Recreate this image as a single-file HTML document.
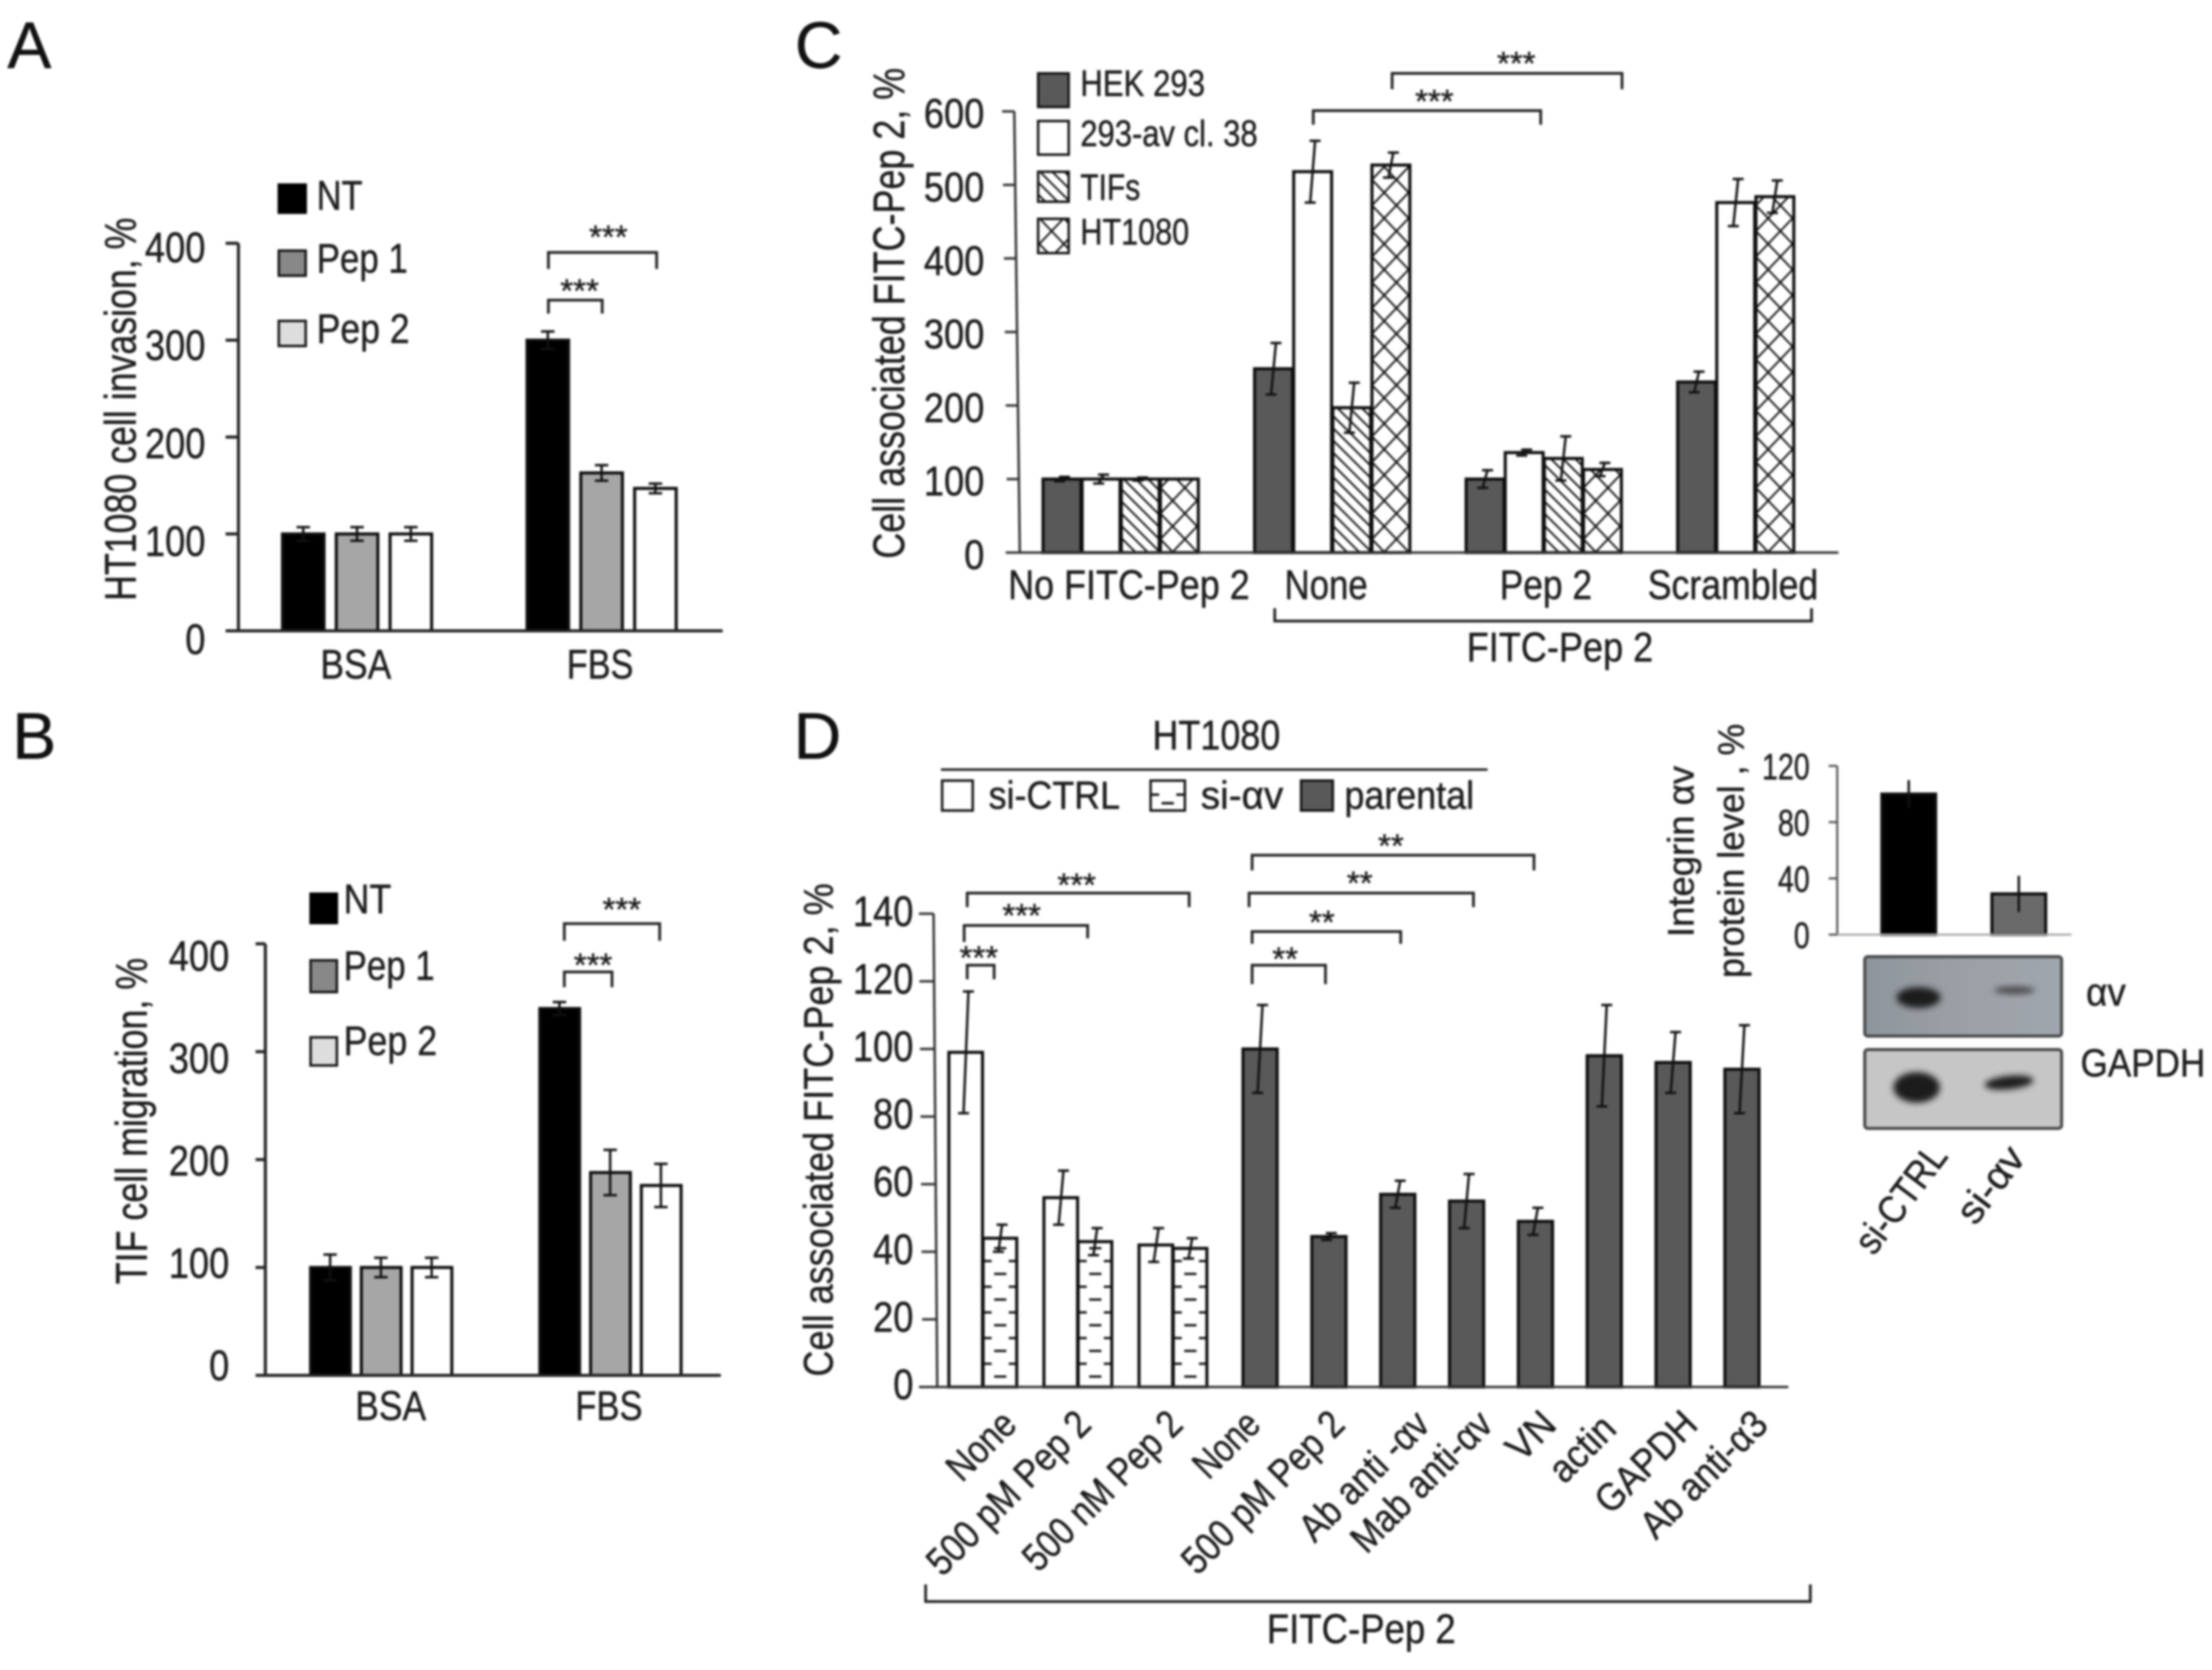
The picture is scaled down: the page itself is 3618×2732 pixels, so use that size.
<!DOCTYPE html>
<html lang="en">
<head>
<meta charset="utf-8">
<title>FITC-Pep 2 figure</title>
<style>
html,body{margin:0;padding:0;background:#fff;width:3618px;height:2732px;overflow:hidden}
svg{display:block;filter:blur(1.8px)}
text{font-family:"Liberation Sans",sans-serif;fill:#1c1c1c;stroke:#1c1c1c;stroke-width:.7px}
.f72{font-size:72px}.f66{font-size:68px}.f62{font-size:64px}.f58{font-size:60px}
.star{font-size:54px}
.letter{font-size:108px;fill:#111}
.br{fill:none;stroke:#222;stroke-width:4.5}
</style>
</head>
<body>
<svg id="fig" xmlns="http://www.w3.org/2000/svg" width="3618" height="2732" viewBox="0 0 3618 2732">
<defs>
<pattern id="hatch" patternUnits="userSpaceOnUse" width="20" height="20"><path d="M-2 -2L22 22M-2 18L2 22M18 -2L22 2" stroke="#111" stroke-width="3"/></pattern>
<pattern id="cross" patternUnits="userSpaceOnUse" width="40" height="42"><path d="M0 0L40 42M40 0L0 42" stroke="#111" stroke-width="3"/></pattern>
<pattern id="dash" patternUnits="userSpaceOnUse" width="56" height="42"><path d="M0 5H14M42 5H56M18 26H38" stroke="#111" stroke-width="3.8"/></pattern>
<linearGradient id="blot1" x1="0" y1="0" x2="1" y2="0"><stop offset="0" stop-color="#8e959c"/><stop offset="0.5" stop-color="#9ba0a5"/><stop offset="1" stop-color="#a0a6ae"/></linearGradient>
<filter id="soft" x="-30%" y="-60%" width="160%" height="220%"><feGaussianBlur stdDeviation="5"/></filter>
</defs>

<text class="letter" x="12" y="111">A</text>
<text class="letter" x="20" y="1241">B</text>
<text class="letter" x="1300" y="111">C</text>
<text class="letter" x="1298" y="1241">D</text>

<g id="panelA">
<text class="f72" transform="translate(222,983) rotate(-90)" textLength="627" lengthAdjust="spacingAndGlyphs">HT1080 cell invasion, %</text>
<rect x="456" y="302" width="44" height="46" fill="#000" stroke="#000" stroke-width="4"/>
<rect x="456" y="410" width="44" height="41" fill="#888" stroke="#111" stroke-width="4"/>
<rect x="456" y="525" width="44" height="41" fill="#ddd" stroke="#111" stroke-width="4"/>
<text class="f66" x="518" y="343" textLength="75" lengthAdjust="spacingAndGlyphs">NT</text>
<text class="f66" x="518" y="446" textLength="149" lengthAdjust="spacingAndGlyphs">Pep 1</text>
<text class="f66" x="518" y="561" textLength="152" lengthAdjust="spacingAndGlyphs">Pep 2</text>
<text class="f66" x="524" y="1110" textLength="116" lengthAdjust="spacingAndGlyphs">BSA</text>
<text class="f66" x="927" y="1110" textLength="109" lengthAdjust="spacingAndGlyphs">FBS</text>
<path class="br" d="M897 440V413H1074V440"/>
<path class="br" d="M897 513V491H985V513"/>
<text class="star" x="995" y="406" text-anchor="middle">***</text>
<text class="star" x="948" y="494" text-anchor="middle">***</text>
</g>

<g id="panelB">
<text class="f72" transform="translate(240,2101) rotate(-90)" textLength="534" lengthAdjust="spacingAndGlyphs">TIF cell migration, %</text>
<rect x="508" y="1462" width="43" height="48" fill="#000" stroke="#000" stroke-width="4"/>
<rect x="508" y="1571" width="43" height="52" fill="#888" stroke="#111" stroke-width="4"/>
<rect x="508" y="1697" width="43" height="46" fill="#ddd" stroke="#111" stroke-width="4"/>
<text class="f66" x="562" y="1494" textLength="78" lengthAdjust="spacingAndGlyphs">NT</text>
<text class="f66" x="562" y="1603" textLength="149" lengthAdjust="spacingAndGlyphs">Pep 1</text>
<text class="f66" x="562" y="1726" textLength="153" lengthAdjust="spacingAndGlyphs">Pep 2</text>
<text class="f66" x="581" y="2323" textLength="116" lengthAdjust="spacingAndGlyphs">BSA</text>
<text class="f66" x="941" y="2323" textLength="110" lengthAdjust="spacingAndGlyphs">FBS</text>
<path class="br" d="M923 1539V1511H1079V1539"/>
<path class="br" d="M923 1615V1590H1001V1615"/>
<text class="star" x="1017" y="1506" text-anchor="middle">***</text>
<text class="star" x="970" y="1597" text-anchor="middle">***</text>
</g>

<g id="panelC">
<text class="f72" transform="translate(1479,914) rotate(-90)" textLength="803" lengthAdjust="spacingAndGlyphs">Cell associated FITC-Pep 2, %</text>
<rect x="1698" y="120" width="50" height="55" fill="#595959" stroke="#111" stroke-width="4"/>
<rect x="1698" y="198" width="50" height="55" fill="#fff" stroke="#111" stroke-width="4"/>
<rect x="1698" y="281" width="50" height="49" fill="url(#hatch)" stroke="#111" stroke-width="4"/>
<rect x="1698" y="358" width="50" height="56" fill="url(#cross)" stroke="#111" stroke-width="4"/>
<text class="f58" x="1767" y="157" textLength="204" lengthAdjust="spacingAndGlyphs">HEK 293</text>
<text class="f58" x="1767" y="239" textLength="290" lengthAdjust="spacingAndGlyphs">293-av cl. 38</text>
<text class="f58" x="1767" y="327" textLength="98" lengthAdjust="spacingAndGlyphs">TIFs</text>
<text class="f58" x="1767" y="400" textLength="178" lengthAdjust="spacingAndGlyphs">HT1080</text>
<path class="br" d="M2148 204V181H2520V204"/>
<path class="br" d="M2277 146V120H2653V146"/>
<text class="star" x="2346" y="184" text-anchor="middle">***</text>
<text class="star" x="2480" y="122" text-anchor="middle">***</text>
<text class="f66" x="1649" y="980" textLength="395" lengthAdjust="spacingAndGlyphs">No FITC-Pep 2</text>
<text class="f66" x="2101" y="980" textLength="136" lengthAdjust="spacingAndGlyphs">None</text>
<text class="f66" x="2453" y="980" textLength="151" lengthAdjust="spacingAndGlyphs">Pep 2</text>
<text class="f66" x="2695" y="980" textLength="279" lengthAdjust="spacingAndGlyphs">Scrambled</text>
<path class="br" d="M2085 995V1016H2963V995"/>
<text class="f66" x="2399" y="1082" textLength="305" lengthAdjust="spacingAndGlyphs">FITC-Pep 2</text>
</g>

<g id="panelD">
<text class="f66" transform="translate(1362,2252) rotate(-90)" textLength="807" lengthAdjust="spacingAndGlyphs">Cell associated FITC-Pep 2, %</text>
<text class="f66" x="1885" y="1226" textLength="209" lengthAdjust="spacingAndGlyphs">HT1080</text>
<line x1="1539" y1="1259" x2="2433" y2="1259" stroke="#222" stroke-width="4"/>
<rect x="1541" y="1277" width="50" height="49" fill="#fff" stroke="#111" stroke-width="4"/>
<rect x="1882" y="1277" width="56" height="49" fill="#fff" stroke="#111" stroke-width="4"/>
<path d="M1882 1300H1896M1924 1300H1938M1900 1314H1920" stroke="#111" stroke-width="4"/>
<rect x="2128" y="1277" width="52" height="49" fill="#595959" stroke="#111" stroke-width="4"/>
<text class="f62" x="1617" y="1323" textLength="215" lengthAdjust="spacingAndGlyphs">si-CTRL</text>
<text class="f62" x="1964" y="1323" textLength="135" lengthAdjust="spacingAndGlyphs">si-αv</text>
<text class="f62" x="2199" y="1323" textLength="212" lengthAdjust="spacingAndGlyphs">parental</text>
<path class="br" d="M1582 1484V1461H1945V1484"/>
<path class="br" d="M1577 1541V1514H1779V1535"/>
<path class="br" d="M1582 1602V1579H1626V1602"/>
<path class="br" d="M2048 1424V1399H2509V1424"/>
<path class="br" d="M2043 1484V1461H2410V1484"/>
<path class="br" d="M2048 1544V1524H2291V1544"/>
<path class="br" d="M2048 1610V1579H2168V1610"/>
<text class="star" x="1761" y="1466" text-anchor="middle">***</text>
<text class="star" x="1671" y="1516" text-anchor="middle">***</text>
<text class="star" x="1601" y="1585" text-anchor="middle">***</text>
<text class="star" x="2275" y="1402" text-anchor="middle">**</text>
<text class="star" x="2224" y="1463" text-anchor="middle">**</text>
<text class="star" x="2162" y="1527" text-anchor="middle">**</text>
<text class="star" x="2102" y="1587" text-anchor="middle">**</text>
<g text-anchor="end">
<text class="f62" transform="translate(1666,2334) rotate(-45)" textLength="131" lengthAdjust="spacingAndGlyphs">None</text>
<text class="f62" transform="translate(1788,2334) rotate(-45)" textLength="349" lengthAdjust="spacingAndGlyphs">500 pM Pep 2</text>
<text class="f62" transform="translate(1938,2334) rotate(-45)" textLength="339" lengthAdjust="spacingAndGlyphs">500 nM Pep 2</text>
<text class="f62" transform="translate(2065,2334) rotate(-45)" textLength="125" lengthAdjust="spacingAndGlyphs">None</text>
<text class="f62" transform="translate(2203,2334) rotate(-45)" textLength="346" lengthAdjust="spacingAndGlyphs">500 pM Pep 2</text>
<text class="f62" transform="translate(2342,2334) rotate(-45)" textLength="271" lengthAdjust="spacingAndGlyphs">Ab anti -αv</text>
<text class="f62" transform="translate(2445,2334) rotate(-45)" textLength="297" lengthAdjust="spacingAndGlyphs">Mab anti-αv</text>
<text class="f62" transform="translate(2549,2334) rotate(-45)" textLength="85" lengthAdjust="spacingAndGlyphs">VN</text>
<text class="f62" transform="translate(2647,2341) rotate(-45)" textLength="125" lengthAdjust="spacingAndGlyphs">actin</text>
<text class="f62" transform="translate(2780,2334) rotate(-45)" textLength="206" lengthAdjust="spacingAndGlyphs">GAPDH</text>
<text class="f62" transform="translate(2895,2334) rotate(-45)" textLength="264" lengthAdjust="spacingAndGlyphs">Ab anti-α3</text>
</g>
<path class="br" d="M1514 2592V2620H2961V2592"/>
<text class="f66" x="2072" y="2688" textLength="309" lengthAdjust="spacingAndGlyphs">FITC-Pep 2</text>
</g>

<g id="inset">
<text class="f58" transform="translate(2770,1533) rotate(-90)" textLength="280" lengthAdjust="spacingAndGlyphs">Integrin αv</text>
<text class="f58" transform="translate(2852,1600) rotate(-90)" textLength="416" lengthAdjust="spacingAndGlyphs">protein level , %</text>
<g>
<rect x="3050" y="1565" width="322" height="130" rx="5" fill="url(#blot1)" stroke="#4a4a4a" stroke-width="5"/>
<ellipse cx="3138" cy="1632" rx="36" ry="17" fill="#1a1a1a" filter="url(#soft)"/>
<ellipse cx="3295" cy="1620" rx="33" ry="6" fill="#444" filter="url(#soft)"/>
</g>
<g>
<rect x="3050" y="1717" width="322" height="129" rx="5" fill="#c6c6c6" stroke="#4a4a4a" stroke-width="5"/>
<ellipse cx="3135" cy="1779" rx="38" ry="25" fill="#1e1e1e" filter="url(#soft)"/>
<ellipse cx="3286" cy="1771" rx="40" ry="11" fill="#1e1e1e" transform="rotate(-6 3286 1771)" filter="url(#soft)"/>
</g>
<text class="f62" x="3412" y="1645" textLength="65" lengthAdjust="spacingAndGlyphs">αv</text>
<text class="f62" x="3403" y="1761" textLength="204" lengthAdjust="spacingAndGlyphs">GAPDH</text>
<text class="f62" text-anchor="end" transform="translate(3188,1892) rotate(-53)" textLength="205" lengthAdjust="spacingAndGlyphs">si-CTRL</text>
<text class="f62" text-anchor="end" transform="translate(3315,1895) rotate(-53)" textLength="140" lengthAdjust="spacingAndGlyphs">si-αv</text>
</g>
</svg>

<script>
// Panel A data
const aCategories = ['BSA', 'FBS'];
const aNT = [100, 300];
const aPep1 = [100, 163];
const aPep2 = [100, 147];
const aErrNT = [7, 9];
const aErrPep1 = [7, 8];
const aErrPep2 = [7, 5];
const aTicks = [0, 100, 200, 300, 400];

// Panel B data
const bCategories = ['BSA', 'FBS'];
const bNT = [100, 340];
const bPep1 = [100, 188];
const bPep2 = [100, 176];
const bErrNT = [12, 6];
const bErrPep1 = [9, 21];
const bErrPep2 = [9, 20];
const bTicks = [0, 100, 200, 300, 400];

// Panel C data
const cCategories = ['No FITC-Pep 2', 'None', 'Pep 2', 'Scrambled'];
const cHEK = [100, 250, 100, 232];
const cAv = [100, 518, 136, 476];
const cTIF = [100, 197, 128, null];
const cHT = [100, 527, 113, 484];
const cErrHEK = [3, 35, 12, 14];
const cErrAv = [6, 42, 4, 32];
const cErrTIF = [2, 34, 30, 0];
const cErrHT = [0, 17, 9, 22];
const cTicks = [0, 100, 200, 300, 400, 500, 600];

// Panel D data
const dSiCategories = ['None', '500 pM Pep 2', '500 nM Pep 2'];
const dSiCtrl = [99, 56, 42];
const dSiAv = [44, 43, 41];
const dErrSiCtrl = [18, 8, 5];
const dErrSiAv = [4, 4, 3];
const dParentalCategories = ['None', '500 pM Pep 2', 'Ab anti-av', 'Mab anti-av', 'VN', 'actin', 'GAPDH', 'Ab anti-a3'];
const dParental = [100, 44.5, 57, 55, 49, 98, 96, 94];
const dErrParental = [13, 1, 4, 8, 4, 15, 9, 13];
const dTicks = [0, 20, 40, 60, 80, 100, 120, 140];

// Inset data
const iCategories = ['si-CTRL', 'si-av'];
const iValues = [100, 29];
const iErrors = [9, 12];
const iTicks = [0, 40, 80, 120];

const NS = 'http://www.w3.org/2000/svg';

function mk(parent, tag, attrs, name) {
  const el = document.createElementNS(NS, tag);
  for (const k in attrs) el.setAttribute(k, attrs[k]);
  
  
  parent.appendChild(el);
  return el;
}

function linearY(base, pxPerUnit) {
  return function (v) { return base - v * pxPerUnit; };
}

function drawAxes(parent, y, ticks, o) {
  mk(parent, 'line', {x1: o.axisTopX, y1: y(ticks[ticks.length - 1]), x2: o.axisX, y2: y(0), stroke: o.color, 'stroke-width': o.sw}, 'y-axis-line');
  mk(parent, 'line', {x1: o.xStart, y1: y(0), x2: o.xEnd, y2: y(0), stroke: o.baseColor || o.color, 'stroke-width': o.sw}, 'x-axis-line');
  ticks.forEach(function (t) {
    const frac = t / ticks[ticks.length - 1];
    const ax = o.axisX + (o.axisTopX - o.axisX) * frac;
    mk(parent, 'line', {x1: ax - o.tickLen, y1: y(t), x2: ax, y2: y(t), stroke: o.color, 'stroke-width': o.sw}, 'y-tick');
    const label = mk(parent, 'text', {
      x: o.labelRight,
      y: y(t) + o.labelA + t * o.labelB,
      'text-anchor': 'end',
      textLength: String(t).length * o.digitW,
      lengthAdjust: 'spacingAndGlyphs',
      style: 'font-size:' + o.fs + 'px'
    }, 'y-tick-label');
    label.textContent = String(t);
  });
}

function drawBar(parent, x, w, y, v, fill, name) {
  return mk(parent, 'rect', {
    x: 0, y: y(v), width: w, height: y(0) - y(v),
    transform: 'translate(' + x + ',0)',
    fill: fill, stroke: '#0d0d0d', 'stroke-width': 5
  }, name);
}

function drawError(parent, cx, y, v, err, slant, cap, name) {
  if (!err) return;
  const t = y(v + err), b = y(v - err);
  const d = 'M' + (cx + slant - cap) + ' ' + t + 'L' + (cx + slant + cap) + ' ' + t +
            'M' + (cx + slant) + ' ' + t + 'L' + (cx - slant) + ' ' + b +
            'M' + (cx - slant - cap) + ' ' + b + 'L' + (cx - slant + cap) + ' ' + b;
  mk(parent, 'path', {d: d, fill: 'none', stroke: '#111', 'stroke-width': 4}, name);
}

// Panel A
(function () {
  const g = document.getElementById('panelA');
  const y = linearY(1032, 1.585);
  const xBar = function (c, s) { return 462 + c * 400 + s * 88; };
  const series = [aNT, aPep1, aPep2];
  const errs = [aErrNT, aErrPep1, aErrPep2];
  const fills = ['#000', '#a6a6a6', '#fff'];
  aCategories.forEach(function (cat, c) {
    series.forEach(function (vals, s) {
      const x = xBar(c, s);
      drawBar(g, x, 68, y, vals[c], fills[s], 'bar-' + cat.toLowerCase() + '-' + s);
      drawError(g, x + 34, y, vals[c], errs[s][c], 0, 11, 'error-bar-' + cat.toLowerCase() + '-' + s);
    });
  });
  drawAxes(g, y, aTicks, {axisX: 390, axisTopX: 390, xStart: 369, xEnd: 1182, tickLen: 21, color: '#222', sw: 5, labelRight: 336, labelA: 38, labelB: -0.018, digitW: 33, fs: 70});
})();

// Panel B
(function () {
  const g = document.getElementById('panelB');
  const y = linearY(2250, 1.765);
  const xBar = function (c, s) { return 508 + c * 375 + s * 83; };
  const series = [bNT, bPep1, bPep2];
  const errs = [bErrNT, bErrPep1, bErrPep2];
  const fills = ['#000', '#a6a6a6', '#fff'];
  bCategories.forEach(function (cat, c) {
    series.forEach(function (vals, s) {
      const x = xBar(c, s);
      drawBar(g, x, 65, y, vals[c], fills[s], 'bar-' + cat.toLowerCase() + '-' + s);
      drawError(g, x + 32, y, vals[c], errs[s][c], 0, 11, 'error-bar-' + cat.toLowerCase() + '-' + s);
    });
  });
  drawAxes(g, y, bTicks, {axisX: 434, axisTopX: 434, xStart: 423, xEnd: 1179, tickLen: 16, color: '#222', sw: 5, labelRight: 375, labelA: 8, labelB: 0.09, digitW: 33, fs: 70});
})();

// Panel C
(function () {
  const g = document.getElementById('panelC');
  const y = linearY(904, 1.203);
  const series = [cHEK, cAv, cTIF, cHT];
  const errs = [cErrHEK, cErrAv, cErrTIF, cErrHT];
  const fills = ['#595959', '#fff', 'url(#hatch)', 'url(#cross)'];
  cCategories.forEach(function (cat, c) {
    let slot = 0;
    series.forEach(function (vals, s) {
      if (vals[c] === null) return;
      const x = 1706 + c * 346 + slot * 64;
      slot += 1;
      drawBar(g, x, 62, y, vals[c], fills[s], 'bar-group-' + c + '-series-' + s);
      drawError(g, x + 31, y, vals[c], errs[s][c], 4, 9, 'error-bar-group-' + c + '-series-' + s);
    });
  });
  drawAxes(g, y, cTicks, {axisX: 1668, axisTopX: 1659, xStart: 1645, xEnd: 3007, tickLen: 20, color: '#333', sw: 4, labelRight: 1610, labelA: 27, labelB: 0, digitW: 33, fs: 68});
})();

// Panel D
(function () {
  const g = document.getElementById('panelD');
  const y = linearY(2269, 5.53);
  dSiCategories.forEach(function (cat, c) {
    const x0 = 1552 + c * 155.5;
    drawBar(g, x0, 55, y, dSiCtrl[c], '#fff', 'bar-si-ctrl-' + c);
    drawBar(g, x0 + 56, 55, y, dSiAv[c], 'url(#dash)', 'bar-si-av-' + c);
    drawError(g, x0 + 28, y, dSiCtrl[c], dErrSiCtrl[c], 4, 9, 'error-bar-si-ctrl-' + c);
    drawError(g, x0 + 84, y, dSiAv[c], dErrSiAv[c], 3, 9, 'error-bar-si-av-' + c);
  });
  dParentalCategories.forEach(function (cat, i) {
    const x = 2033 + i * 112.6;
    drawBar(g, x, 56, y, dParental[i], '#595959', 'bar-parental-' + i);
    drawError(g, x + 28, y, dParental[i], dErrParental[i], 4, 9, 'error-bar-parental-' + i);
  });
  drawAxes(g, y, dTicks, {axisX: 1533, axisTopX: 1527, xStart: 1503, xEnd: 2925, tickLen: 24, color: '#333', sw: 4, labelRight: 1494, labelA: 20, labelB: 0, digitW: 33, fs: 70});
})();

// Inset
(function () {
  const g = document.getElementById('inset');
  const y = linearY(1529, 2.3);
  const fills = ['#000', '#6a6a6a'];
  iCategories.forEach(function (cat, i) {
    const x = 3078 + i * 180;
    drawBar(g, x, 88, y, iValues[i], fills[i], 'inset-bar-' + cat);
    drawError(g, x + 44, y, iValues[i], iErrors[i], 0, 2, 'inset-error-bar-' + cat);
  });
  drawAxes(g, y, iTicks, {axisX: 3005, axisTopX: 3005, xStart: 3005, xEnd: 3388, tickLen: 14, color: '#555', baseColor: '#aaa', sw: 3.5, labelRight: 2960, labelA: 22, labelB: 0, digitW: 26, fs: 60});
})();
</script>
</body>
</html>
